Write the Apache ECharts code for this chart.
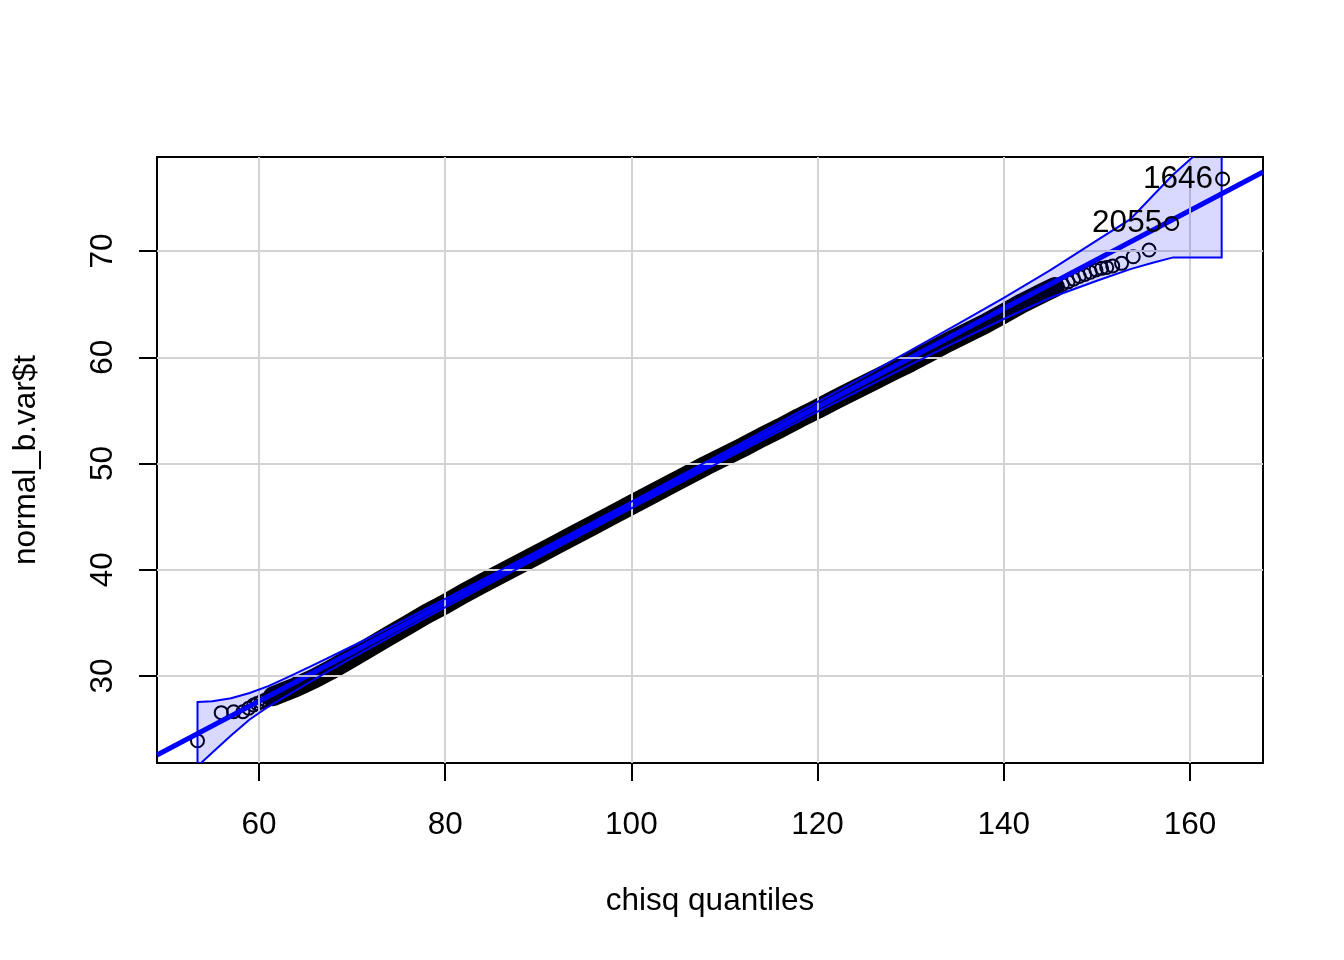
<!DOCTYPE html>
<html><head><meta charset="utf-8">
<script src="https://cdn.jsdelivr.net/npm/echarts@6/dist/echarts.min.js"></script>
<style>html,body{margin:0;padding:0;background:#fff}#c{width:1344px;height:960px}</style>
</head><body><div id="c"></div>
<script>
// Axis ranges and ticks
const xRange = [49.05, 167.84];
const yRange = [21.81, 78.85];
const xTicks = [60, 80, 100, 120, 140, 160];
const yTicks = [30, 40, 50, 60, 70];
const xTitle = 'chisq quantiles';
const yTitle = 'normal_b.var$t';

// Dense band of overlapping points (read along the centre of the black band)
const bandX = [61.5,64,66,68,70,72,74,76,78,80,82,84,86,88,90,92,94,96,98,100,102,104,106,108,110,112,114,116,118,120,122,124,126,128,130,132,134,136,138,140,142,144,145.5];
const bandY = [28.10,28.97,29.79,30.72,31.74,32.76,33.79,34.81,35.84,36.76,37.78,38.71,39.63,40.56,41.48,42.40,43.33,44.25,45.18,46.10,47.02,47.95,48.87,49.80,50.67,51.54,52.47,53.34,54.27,55.14,56.06,56.94,57.81,58.69,59.56,60.48,61.41,62.28,63.16,64.13,65.10,65.98,66.62];

// Individually visible points in the tails
const tailX = [53.4,55.95,57.28,58.28,58.9,59.43,59.8,60.2,60.7,61.1,
               146.3,146.9,147.5,148.1,148.7,149.3,149.9,150.5,151.05,151.7,152.65,153.9,155.6];
const tailY = [23.9,26.55,26.64,26.64,26.96,27.27,27.4,27.55,27.75,27.9,
               66.85,67.1,67.35,67.6,67.8,68.0,68.22,68.37,68.46,68.6,68.84,69.46,70.09];

// Labelled outliers
const outX = [158.03, 163.5];
const outY = [72.6, 76.78];
const outLabels = ['2055', '1646'];

// Reference line endpoints (at plot edges)
const refX = [49.05, 167.84];
const refY = [22.56, 77.44];

// Confidence envelope
const envX = [53.4,55,57,59,61,63,66,70,75,80,90,100,110,120,125,130,135,140,145,150,153.6,156,158.2,160.3,163.4];
const envU = [27.55,27.62,27.9,28.4,29.05,29.85,31.1,32.8,35.0,37.26,41.81,46.42,51.07,55.79,58.2,60.66,63.1,65.6,68.2,71.0,73.0,75.2,77.2,78.85,81.4];
const envL = [21.5,22.8,24.4,25.9,27.1,28.15,29.7,31.7,34.1,36.46,41.15,45.78,50.37,54.89,57.1,59.31,61.5,63.6,65.6,67.2,68.3,68.9,69.4,69.4,69.4];

const FONT = 'Liberation Sans, Arial, sans-serif';
const FS = 31.5;
const chart = echarts.init(document.getElementById('c'), null, {renderer: 'canvas'});

const pts = tailX.map((x, i) => [x, tailY[i]]).concat(bandX.map((x, i) => [x, bandY[i]]));

const option = {
  animation: false,
  backgroundColor: '#fff',
  grid: {left: 157, top: 157, width: 1106, height: 606, show: true, borderColor: '#000', borderWidth: 2, backgroundColor: 'transparent'},
  xAxis: {
    type: 'value', min: xRange[0], max: xRange[1],
    axisLine: {show: false},
    splitLine: {show: false},
    axisTick: {show: true, length: 18, customValues: xTicks, lineStyle: {color: '#000', width: 2}},
    axisLabel: {customValues: xTicks, fontSize: FS, color: '#000', fontFamily: FONT, margin: 46}
  },
  yAxis: {
    type: 'value', min: yRange[0], max: yRange[1],
    axisLine: {show: false},
    splitLine: {show: false},
    axisTick: {show: true, length: 18, customValues: yTicks, lineStyle: {color: '#000', width: 2}},
    axisLabel: {customValues: yTicks, fontSize: FS, color: '#000', fontFamily: FONT, rotate: 90, margin: 38}
  },
  graphic: [
    {type: 'text', x: 710, y: 901, style: {text: xTitle, font: FS + 'px ' + FONT, fill: '#000', textAlign: 'center', textVerticalAlign: 'middle'}},
    {type: 'text', x: 26, y: 460, rotation: Math.PI / 2, style: {text: yTitle, font: FS + 'px ' + FONT, fill: '#000', textAlign: 'center', textVerticalAlign: 'middle'}}
  ],
  series: [
    {
      type: 'line', data: [], z: 1, silent: true,
      markLine: {
        silent: true, symbol: 'none', label: {show: false}, animation: false,
        lineStyle: {color: '#d3d3d3', width: 2, type: 'solid'},
        data: xTicks.map(v => ({xAxis: v})).concat(yTicks.map(v => ({yAxis: v})))
      }
    },
    {
      type: 'line', data: bandX.map((x, i) => [x, bandY[i]]), z: 2, silent: true,
      symbol: 'none', lineStyle: {color: '#000', width: 20, cap: 'round', join: 'round'}
    },
    {
      type: 'scatter', data: pts, z: 3, silent: true, symbol: 'circle', symbolSize: 13,
      itemStyle: {color: 'rgba(0,0,0,0)', borderColor: '#000', borderWidth: 2, opacity: 1}
    },
    {
      type: 'line', data: refX.map((x, i) => [x, refY[i]]), z: 4, silent: true,
      symbol: 'none', lineStyle: {color: '#0000ff', width: 5}
    },
    {
      type: 'custom', z: 5, silent: true, clip: true,
      data: envX.map((x, i) => [x, envU[i], envL[i]]),
      encode: {x: 0, y: [1, 2]},
      renderItem: function (params, api) {
        if (params.dataIndex !== 0) return;
        const poly = [];
        for (let i = 0; i < envX.length; i++) poly.push(api.coord([envX[i], envU[i]]));
        for (let i = envX.length - 1; i >= 0; i--) poly.push(api.coord([envX[i], envL[i]]));
        return {type: 'polygon', shape: {points: poly}, style: {fill: 'rgba(0,0,255,0.15)', stroke: '#0000ff', lineWidth: 2}};
      }
    },
    {
      type: 'scatter', z: 6, silent: true, symbol: 'circle', symbolSize: 13,
      data: outX.map((x, i) => ({value: [x, outY[i]], name: outLabels[i]})),
      itemStyle: {color: 'rgba(0,0,0,0)', borderColor: '#000', borderWidth: 2, opacity: 1},
      label: {show: true, position: 'left', distance: 2, formatter: p => p.name, fontSize: FS, color: '#000', fontFamily: FONT, textBorderWidth: 0, opacity: 1}
    }
  ]
};
chart.setOption(option);
</script>
</body></html>
